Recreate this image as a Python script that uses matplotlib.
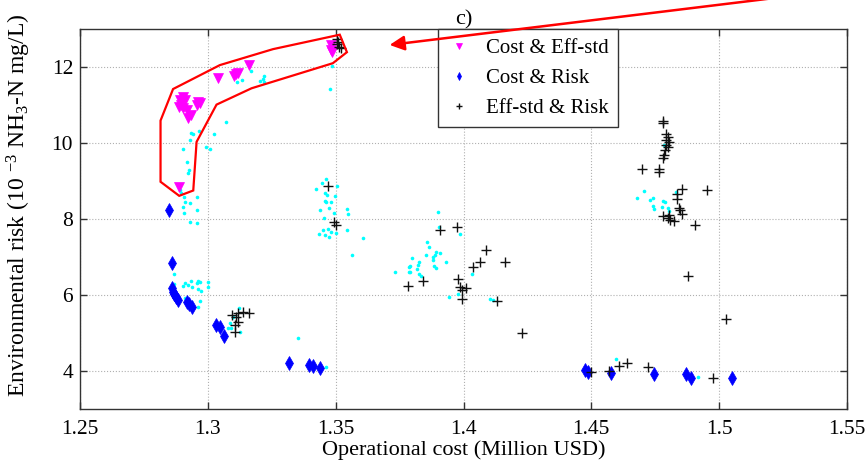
import matplotlib
matplotlib.use("Agg")
import matplotlib.pyplot as plt
from matplotlib.ticker import FuncFormatter
from matplotlib.patches import Polygon

# fonts: Times-like look
plt.rcParams['font.family'] = ['Liberation Serif', 'DejaVu Serif']
plt.rcParams['mathtext.fontset'] = 'custom'
plt.rcParams['mathtext.rm'] = 'Liberation Serif'
plt.rcParams['mathtext.it'] = 'Liberation Serif:italic'

# all other Pareto solutions (cyan dots)
other_x = [1.3167, 1.3135, 1.3115, 1.3203, 1.3216, 1.3220, 1.3219, 1.3070, 1.3023, 1.2992,
           1.3010, 1.2936, 1.2943, 1.2966, 1.2930, 1.2904, 1.2917, 1.2927, 1.2923, 1.2891,
           1.2897, 1.2906, 1.2910, 1.2930, 1.2958, 1.2901, 1.2956, 1.2906, 1.3487, 1.3479,
           1.2932, 1.2958, 1.2867, 1.2910, 1.2904, 1.2923, 1.2936, 1.2940, 1.2956, 1.2962,
           1.2969, 1.3001, 1.3001, 1.2962, 1.2975, 1.2868, 1.2969, 1.2962, 1.2910,
           1.3464, 1.3448, 1.3425, 1.3505, 1.3460, 1.3466, 1.3496, 1.3457, 1.3464, 1.3483,
           1.3440, 1.3474, 1.3492, 1.3453, 1.3544, 1.3548, 1.3450, 1.3435, 1.3457, 1.3474,
           1.3470, 1.3480, 1.3500, 1.3544, 1.3607, 1.3564, 1.3734, 1.3786, 1.3786, 1.3354,
           1.3461, 1.3086, 1.3079, 1.3092, 1.3125, 1.3121, 1.3099,
           1.3900, 1.3904, 1.3987, 1.3858, 1.3867, 1.3799, 1.3789, 1.3825, 1.3823, 1.3789,
           1.3818, 1.3825, 1.3835, 1.3852, 1.3880, 1.3880, 1.3891, 1.3889, 1.3909, 1.3884,
           1.3893, 1.3932, 1.4034, 1.3945, 1.3980, 1.4105, 1.4114,
           1.4707, 1.4677, 1.4740, 1.4731, 1.4782, 1.4788, 1.4742, 1.4746, 1.4776, 1.4801,
           1.4805, 1.4833, 1.4785, 1.4596, 1.4918]
other_y = [11.90, 11.66, 11.61, 11.63, 11.68, 11.76, 11.61, 10.56, 10.23, 9.90,
           9.83, 10.27, 10.24, 10.32, 10.08, 9.83, 9.49, 9.29, 9.22, 8.76,
           8.69, 8.57, 8.46, 8.41, 8.57, 8.31, 8.24, 8.15, 12.03, 11.41,
           7.92, 7.89, 6.54, 6.31, 6.24, 6.26, 6.38, 6.22, 6.32, 6.38,
           6.35, 6.35, 6.20, 6.15, 6.11, 6.29, 5.84, 5.69, 5.91,
           9.05, 8.94, 8.79, 8.87, 8.68, 8.63, 8.61, 8.48, 8.44, 8.46,
           8.24, 8.28, 8.15, 8.02, 8.26, 8.12, 7.71, 7.61, 7.58, 7.53,
           7.73, 7.67, 7.64, 7.71, 7.49, 7.05, 6.61, 6.73, 6.61, 4.86,
           4.11, 5.26, 5.12, 5.12, 5.02, 5.67, 5.43,
           8.18, 7.80, 7.60, 7.39, 7.27, 6.98, 6.77, 6.86, 6.78, 6.61,
           6.68, 6.55, 6.51, 7.05, 6.99, 6.92, 7.14, 7.05, 7.10, 6.77,
           6.70, 6.88, 6.55, 5.94, 6.02, 5.89, 5.87,
           8.74, 8.56, 8.56, 8.50, 8.48, 8.45, 8.34, 8.26, 8.31, 8.28,
           8.22, 8.72, 9.95, 4.31, 3.83]

# Cost & Eff-std
ce_x = [1.2904, 1.2891, 1.2910, 1.2897, 1.2888, 1.2904, 1.2917, 1.2936, 1.2923, 1.2962,
        1.2969, 1.2956, 1.3038, 1.3109, 1.3118, 1.3102, 1.3161, 1.2888, 1.3483, 1.3486, 1.3480]
ce_y = [11.22, 11.13, 11.13, 11.00, 10.96, 10.91, 10.87, 10.74, 10.65, 11.09,
        11.04, 11.00, 11.70, 11.82, 11.85, 11.76, 12.04, 8.85, 12.58, 12.40, 12.45]

# Cost & Risk
cr_x = [1.2849, 1.2858, 1.2861, 1.2864, 1.2868, 1.2875, 1.2884, 1.2919, 1.2927, 1.2939,
        1.3031, 1.3049, 1.3064, 1.3318, 1.3396, 1.3412, 1.3438, 1.4477, 1.4486, 1.4577,
        1.4746, 1.4870, 1.4889, 1.5049]
cr_y = [8.24, 6.85, 6.18, 6.09, 6.02, 5.96, 5.87, 5.82, 5.76, 5.69,
        5.21, 5.15, 4.92, 4.22, 4.16, 4.14, 4.09, 4.03, 3.98, 3.96,
        3.92, 3.91, 3.81, 3.81]

# Eff-std & Risk
er_x = [1.3505, 1.3509, 1.3505, 1.3513, 1.3522, 1.3471, 1.3492, 1.3500,
        1.3096, 1.3109, 1.3118, 1.3138, 1.3160, 1.3118, 1.3105, 1.3105,
        1.3909, 1.3974, 1.4089, 1.4066, 1.4036, 1.4161, 1.3980, 1.3841, 1.3784, 1.3988,
        1.4008, 1.3993, 1.3993, 1.4130, 1.4228,
        1.4782, 1.4782, 1.4794, 1.4798, 1.4794, 1.4802, 1.4792, 1.4798, 1.4789, 1.4785,
        1.4782, 1.4698, 1.4763, 1.4763, 1.4853, 1.4952, 1.4837, 1.4837, 1.4841, 1.4846,
        1.4854, 1.4779, 1.4805, 1.4801, 1.4809, 1.4824, 1.4906, 1.4880,
        1.5026, 1.4499, 1.4568, 1.4609, 1.4638, 1.4720, 1.4974]
er_y = [12.73, 12.67, 12.60, 12.53, 12.49, 8.87, 7.93, 7.84,
        5.47, 5.43, 5.52, 5.56, 5.52, 5.28, 5.21, 5.03,
        7.71, 7.78, 7.18, 6.88, 6.75, 6.86, 6.41, 6.37, 6.24, 6.20,
        6.18, 6.13, 5.89, 5.84, 5.01,
        10.59, 10.52, 10.24, 10.17, 10.08, 10.02, 9.95, 9.90, 9.82, 9.68,
        9.60, 9.32, 9.32, 9.23, 8.79, 8.76, 8.66, 8.53, 8.30, 8.24,
        8.13, 8.08, 8.11, 8.02, 7.97, 7.96, 7.84, 6.50,
        5.38, 3.98, 4.01, 4.13, 4.22, 4.11, 3.81]

# outline drawn round the Cost & Eff-std group
outline_x = [1.2815, 1.2864, 1.3047, 1.3255, 1.3516, 1.3544, 1.3489, 1.3171, 1.3034,
             1.2956, 1.2943, 1.2888, 1.2815]
outline_y = [10.59, 11.42, 12.05, 12.47, 12.85, 12.39, 12.10, 11.44, 11.01,
             10.03, 8.75, 8.61, 8.98]

x_ticks = [1.25, 1.3, 1.35, 1.4, 1.45, 1.5, 1.55]
y_ticks = [4, 6, 8, 10, 12]

fig = plt.figure(figsize=(8.68, 4.72), dpi=100)
ax = fig.add_axes([80 / 868, 63 / 472, 767 / 868, 380 / 472])

ax.plot(other_x, other_y, 'o', color='#00ffff', markersize=2.6, markeredgewidth=0, zorder=2)
ax.plot(ce_x, ce_y, 'v', color='#ff00ff', markersize=7, markeredgewidth=0.5,
        label='Cost & Eff-std', zorder=3)
ax.plot(cr_x, cr_y, 'd', color='#0000ff', markersize=7, markeredgewidth=0.5,
        label='Cost & Risk', zorder=3)
ax.plot(er_x, er_y, '+', color='#111111', markersize=7, markeredgewidth=1.0,
        label='Eff-std & Risk', zorder=4)

ax.add_patch(Polygon(list(zip(outline_x, outline_y)), closed=True, fill=False,
                     edgecolor='#ff0000', linewidth=1.6, zorder=5))

ax.annotate('', xy=(1.3711, 12.58), xytext=(1.5313, 13.895),
            arrowprops=dict(arrowstyle='-|>', color='#ff0000', lw=1.8,
                            mutation_scale=22, shrinkA=0, shrinkB=0),
            annotation_clip=False, zorder=6)

ax.set_xlim(1.25, 1.55)
ax.set_ylim(3, 13)
ax.set_xticks(x_ticks)
ax.set_yticks(y_ticks)
ax.xaxis.set_major_formatter(FuncFormatter(lambda v, p: '%g' % v))
ax.grid(True, linestyle=':', color='#b0b0b0', linewidth=0.8)
ax.tick_params(direction='in', top=True, right=True, length=5, width=1,
               labelsize=15.5, colors='#333333', labelcolor='black')
ax.tick_params(axis='x', pad=8)
ax.tick_params(axis='y', pad=5)
for s in ax.spines.values():
    s.set_color('#333333')
    s.set_linewidth(1.0)

ax.set_xlabel('Operational cost (Million USD)', fontsize=16, labelpad=1)
ax.set_ylabel(r'Environmental risk (10 $^{\mathrm{-3}}$ NH$_{\mathrm{3}}$-N mg/L)',
              fontsize=17)
ax.yaxis.set_label_coords(-0.061, 0.537)
ax.set_title('c)', fontsize=16, pad=3)

leg = ax.legend(loc='upper left', bbox_to_anchor=(0.4668, 1.0), borderaxespad=0,
                fontsize=15, markerscale=0.55, fancybox=False, framealpha=1,
                edgecolor='#333333', handlelength=1.1, handletextpad=0.75,
                labelspacing=0.5, borderpad=0.45)
leg.get_frame().set_linewidth(1.0)

fig.savefig('out.png', dpi=100)
